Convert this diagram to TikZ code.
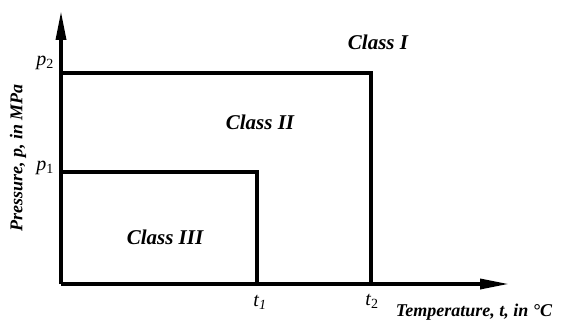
\documentclass[tikz,border=0pt]{standalone}
\usepackage{fontspec}
\setmainfont{Liberation Serif}
\usetikzlibrary{arrows.meta}
\begin{document}
\begin{tikzpicture}[x=1pt,y=-1pt,
  axis/.style={line width=3.5pt,-{Triangle[length=29pt,width=10pt]}},
  region/.style={line width=3.5pt},
  lbl/.style={inner sep=0pt,font=\fontsize{21}{24}\selectfont\bfseries\itshape},
  axlbl/.style={inner sep=0pt,font=\fontsize{18}{21}\selectfont\bfseries\itshape},
  tick/.style={inner sep=0pt,font=\fontsize{20}{23}\selectfont\itshape}]
\useasboundingbox (0,0) rectangle (561,320);
\coordinate (o) at (61,284);
\coordinate (ytip) at (61,11);
\coordinate (xtip) at (509,284);
\draw[axis] (o) -- (ytip);
\draw[axis] (o) -- (xtip);
\coordinate (p2) at (61,73);
\coordinate (t2) at (371,284);
\coordinate (p1) at (61,172);
\coordinate (t1) at (257,284);
\draw[region,line join=miter] (p2) -| (t2);
\draw[region,line join=miter] (p1) -| (t1);
\node[tick] (lp2) at (45,63) {\textit{p}\textsubscript{\upshape 2}};
\node[tick] (lp1) at (45,168) {\textit{p}\textsubscript{\upshape 1}};
\node[tick] (lt1) at (260,302) {\textit{t}\textsubscript{\itshape 1}};
\node[tick] (lt2) at (372,301) {\textit{t}\textsubscript{\upshape 2}};
\node[lbl] (c1) at (378,42) {Class I};
\node[lbl] (c2) at (260,122) {Class II};
\node[lbl] (c3) at (165,237) {Class III};
\node[axlbl] (xl) at (474,312) {Temperature, \textit{t}, in °C};
\node[axlbl,rotate=90] (yl) at (18,158) {Pressure, \textit{p}, in MPa};
\end{tikzpicture}
\end{document}
